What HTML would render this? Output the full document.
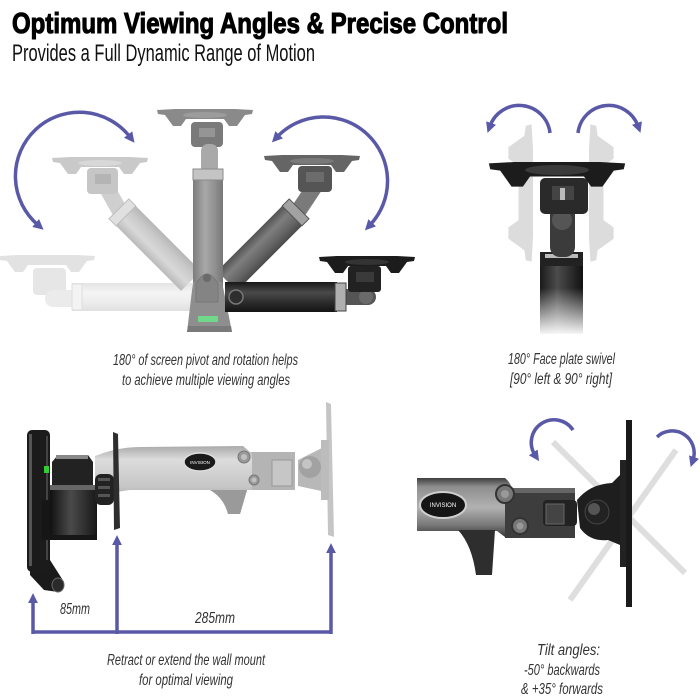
<!DOCTYPE html>
<html><head><meta charset="utf-8">
<style>
html,body{margin:0;padding:0;background:#fff;}
svg{display:block;}
.cap{font-family:"Liberation Sans",sans-serif;font-style:italic;font-size:16px;fill:#333;}
</style></head><body>
<svg width="700" height="700" viewBox="0 0 700 700" xmlns="http://www.w3.org/2000/svg">
<defs>
<marker id="ah" viewBox="0 0 10 10" refX="3" refY="5" markerWidth="3" markerHeight="3" orient="auto-start-reverse" markerUnits="strokeWidth">
<path d="M0,0 L10,5 L0,10 Z" fill="#5a59a7"/>
</marker>
<marker id="ah2" viewBox="0 0 10 10" refX="2" refY="5" markerWidth="2.8" markerHeight="2.8" orient="auto" markerUnits="strokeWidth">
<path d="M0,0 L10,5 L0,10 Z" fill="#5a59a7"/>
</marker>
<path id="plate" d="M-48,-8 L-30,-9 L30,-9 L48,-8 L47,-4 L40,-3 L32,8 L24,8 L19,1 L-19,1 L-24,8 L-32,8 L-40,-3 L-47,-4 Z"/>
<linearGradient id="g0" x1="0" y1="0" x2="0" y2="1"><stop offset="0" stop-color="#e4e4e4"/><stop offset=".35" stop-color="#f4f4f4"/><stop offset=".7" stop-color="#ececec"/><stop offset="1" stop-color="#e0e0e0"/></linearGradient>
<linearGradient id="g1" x1="0" y1="0" x2="0" y2="1"><stop offset="0" stop-color="#bababa"/><stop offset=".35" stop-color="#d8d8d8"/><stop offset=".7" stop-color="#cacaca"/><stop offset="1" stop-color="#b6b6b6"/></linearGradient>
<linearGradient id="g2" x1="0" y1="0" x2="1" y2="0"><stop offset="0" stop-color="#7c7c7c"/><stop offset=".4" stop-color="#a8a8a8"/><stop offset=".7" stop-color="#929292"/><stop offset="1" stop-color="#787878"/></linearGradient>
<linearGradient id="g3" x1="0" y1="0" x2="0" y2="1"><stop offset="0" stop-color="#525252"/><stop offset=".35" stop-color="#7e7e7e"/><stop offset=".7" stop-color="#666"/><stop offset="1" stop-color="#4a4a4a"/></linearGradient>
<linearGradient id="g4" x1="0" y1="0" x2="0" y2="1"><stop offset="0" stop-color="#181818"/><stop offset=".35" stop-color="#4a4a4a"/><stop offset=".7" stop-color="#2a2a2a"/><stop offset="1" stop-color="#141414"/></linearGradient>
<linearGradient id="gcol" x1="0" y1="0" x2="1" y2="0"><stop offset="0" stop-color="#1a1a1a"/><stop offset=".4" stop-color="#4c4c4c"/><stop offset=".75" stop-color="#2a2a2a"/><stop offset="1" stop-color="#111"/></linearGradient>
<linearGradient id="gfade" x1="0" y1="0" x2="0" y2="1"><stop offset="0" stop-color="#fff" stop-opacity="0"/><stop offset=".35" stop-color="#fff" stop-opacity="0"/><stop offset="1" stop-color="#fff" stop-opacity="1"/></linearGradient>
<linearGradient id="garm" x1="0" y1="0" x2="0" y2="1"><stop offset="0" stop-color="#aaa"/><stop offset=".2" stop-color="#dcdcdc"/><stop offset=".6" stop-color="#c6c6c6"/><stop offset="1" stop-color="#8e8e8e"/></linearGradient>
<linearGradient id="garm2" x1="0" y1="0" x2="0" y2="1"><stop offset="0" stop-color="#3e3e3e"/><stop offset=".15" stop-color="#8e8e8e"/><stop offset=".5" stop-color="#b2b2b2"/><stop offset=".8" stop-color="#777"/><stop offset="1" stop-color="#383838"/></linearGradient>
<linearGradient id="gcyl" x1="0" y1="0" x2="1" y2="0"><stop offset="0" stop-color="#111"/><stop offset=".45" stop-color="#4a4a4a"/><stop offset="1" stop-color="#1a1a1a"/></linearGradient>
</defs>

<!-- Title -->
<text x="12" y="33" font-family="Liberation Sans, sans-serif" font-weight="bold" font-size="28.5" textLength="496" lengthAdjust="spacingAndGlyphs" fill="#000" stroke="#000" stroke-width="1.1">Optimum Viewing Angles &amp; Precise Control</text>
<text x="12" y="61" font-family="Liberation Sans, sans-serif" font-size="24" textLength="303" lengthAdjust="spacingAndGlyphs" fill="#111">Provides a Full Dynamic Range of Motion</text>

<!-- ===== Top-left: pivot ===== -->
<use href="#plate" transform="translate(47,264)" fill="#e2e2e2"/>
<rect x="33" y="268" width="33" height="27" rx="4" fill="#e6e6e6"/>
<rect x="45" y="290" width="36" height="17" rx="8" fill="#ebebeb"/>
<rect x="72" y="283" width="120" height="28" fill="url(#g0)"/>
<rect x="72" y="284" width="10" height="26" fill="#f3f3f3" stroke="#dedede"/>

<line x1="122" y1="215" x2="104" y2="183" stroke="#cfcfcf" stroke-width="16" stroke-linecap="round"/>
<g transform="translate(191,281) rotate(-135)">
<rect x="0" y="-14" width="97" height="28" fill="url(#g1)"/>
<rect x="92" y="-14" width="10" height="28" fill="#e0e0e0" stroke="#bdbdbd"/>
</g>
<rect x="87" y="168" width="31" height="26" rx="4" fill="#c6c6c6"/>
<rect x="95" y="174" width="16" height="10" fill="#b4b4b4"/>
<use href="#plate" transform="translate(100,166)" fill="#c9c9c9"/>
<ellipse cx="100" cy="163" rx="22" ry="3" fill="#d8d8d8"/>

<line x1="297" y1="213" x2="317" y2="183" stroke="#7a7a7a" stroke-width="16" stroke-linecap="round"/>
<g transform="translate(227,281) rotate(-45)">
<rect x="0" y="-14" width="97" height="28" fill="url(#g3)"/>
<rect x="92" y="-14" width="10" height="28" fill="#a2a2a2" stroke="#555"/>
</g>
<rect x="298" y="166" width="34" height="26" rx="4" fill="#555"/>
<rect x="306" y="172" width="18" height="10" fill="#6c6c6c"/>
<use href="#plate" transform="translate(312,164)" fill="#656565"/>
<ellipse cx="312" cy="161" rx="22" ry="3" fill="#7a7a7a"/>

<use href="#plate" transform="translate(205,118)" fill="#8a8a8a"/>
<ellipse cx="205" cy="115" rx="22" ry="3" fill="#9c9c9c"/>
<rect x="191" y="122" width="32" height="25" rx="4" fill="#7a7a7a"/>
<rect x="199" y="128" width="16" height="9" fill="#959595"/>
<rect x="201" y="144" width="17" height="30" rx="7" fill="#a9a9a9"/>
<rect x="193" y="179" width="30" height="108" fill="url(#g2)"/>
<rect x="193" y="169" width="30" height="11" fill="#c4c4c4" stroke="#8a8a8a"/>
<path d="M193,282 L222,282 L232,332 L187,332 Z" fill="#8e8e8e"/>
<path d="M188,326 L231,326 L232,332 L187,332 Z" fill="#7a7a7a"/>
<path d="M196,302 L196,284 Q207,264 218,284 L218,302 Z" fill="#848484" stroke="#777"/>
<circle cx="207" cy="278" r="4" fill="#6a6a6a"/>
<rect x="198" y="316" width="20" height="6" rx="1" fill="#6fd88a"/>

<rect x="340" y="289" width="36" height="16" rx="8" fill="#555"/>
<circle cx="366" cy="297" r="7" fill="#6a6a6a"/>
<rect x="348" y="266" width="33" height="26" rx="3" fill="#222"/>
<rect x="356" y="272" width="18" height="10" fill="#3a3a3a"/>
<use href="#plate" transform="translate(367,265)" fill="#1c1c1c"/>
<ellipse cx="367" cy="262" rx="22" ry="3" fill="#333"/>
<rect x="225" y="282" width="112" height="30" fill="url(#g4)"/>
<rect x="335" y="283" width="11" height="28" fill="#b0b0b0" stroke="#444"/>
<circle cx="236" cy="297" r="7" fill="#2e2e2e" stroke="#777" stroke-width="1.5"/>

<path d="M130,137 A64,64 0 1 0 38,225" fill="none" stroke="#5a59a7" stroke-width="3.5" marker-start="url(#ah)" marker-end="url(#ah)"/>
<path d="M277,137 A64,64 0 1 1 370,225" fill="none" stroke="#5a59a7" stroke-width="3.5" marker-start="url(#ah)" marker-end="url(#ah)"/>

<text class="cap" x="113" y="365" textLength="185" lengthAdjust="spacingAndGlyphs">180° of screen pivot and rotation helps</text>
<text class="cap" x="122" y="385" textLength="168" lengthAdjust="spacingAndGlyphs">to achieve multiple viewing angles</text>

<!-- ===== Top-right: swivel ===== -->
<use href="#plate" transform="translate(520,193) rotate(90) scale(1.43,1.45)" fill="#dcdcdc"/>
<use href="#plate" transform="translate(602,193) rotate(-90) scale(1.43,1.45)" fill="#dcdcdc"/>
<rect x="540" y="262" width="43" height="72" fill="url(#gcol)"/>
<rect x="538" y="262" width="47" height="74" fill="url(#gfade)"/>
<rect x="540" y="252" width="43" height="14" fill="#222"/>
<rect x="545" y="254" width="33" height="4" fill="#bbb"/>
<rect x="550" y="205" width="25" height="52" rx="10" fill="#3b3b3b"/>
<circle cx="562" cy="220" r="10" fill="#555"/>
<rect x="540" y="178" width="48" height="36" rx="5" fill="#2a2a2a"/>
<rect x="552" y="186" width="22" height="14" fill="#444"/>
<rect x="560" y="188" width="5" height="12" fill="#bbb"/>
<use href="#plate" transform="translate(557,175) scale(1.42,1.45)" fill="#1c1c1c"/>
<ellipse cx="557" cy="170" rx="32" ry="5" fill="#3a3a3a"/>

<path d="M550,133 A31,31 0 0 0 490,126" fill="none" stroke="#5a59a7" stroke-width="3.5" marker-end="url(#ah)"/>
<path d="M578,133 A31,31 0 0 1 638,126" fill="none" stroke="#5a59a7" stroke-width="3.5" marker-end="url(#ah)"/>

<text class="cap" x="508" y="364" textLength="107" lengthAdjust="spacingAndGlyphs">180° Face plate swivel</text>
<text class="cap" x="510" y="384" textLength="102" lengthAdjust="spacingAndGlyphs">[90° left &amp; 90° right]</text>

<!-- ===== Bottom-left: retract/extend ===== -->
<path d="M95,456 Q118,447 140,447 L243,446 L250,452 L295,452 L295,490 L247,490 L240,514 L228,514 Q224,498 210,490 L130,490 Q110,492 95,500 Z" fill="url(#garm)"/>
<rect x="252" y="452" width="43" height="38" fill="#b4b4b4"/>
<rect x="272" y="460" width="20" height="26" fill="#c6c6c6" stroke="#999"/>
<path d="M228,514 Q224,498 210,490 L247,490 L240,514 Z" fill="#9a9a9a"/>
<ellipse cx="200" cy="462" rx="16" ry="9" fill="#1a1a1a" stroke="#ddd" stroke-width="1.5"/>
<text x="200" y="464" font-family="Liberation Sans, sans-serif" font-size="4.5" fill="#fff" text-anchor="middle">INVISION</text>
<circle cx="244" cy="457" r="6" fill="#999" stroke="#777"/>
<circle cx="244" cy="457" r="3" fill="#c0c0c0"/>
<circle cx="254" cy="480" r="5" fill="#999" stroke="#777"/>
<circle cx="254" cy="480" r="2.5" fill="#c0c0c0"/>
<path d="M298,460 L322,448 L326,492 L298,486 Z" fill="#b8b8b8"/>
<circle cx="310" cy="467" r="11" fill="#a2a2a2"/>
<circle cx="307" cy="464" r="5" fill="#c4c4c4"/>
<path d="M326,402 L331,404 L334,537 L328,535 Z" fill="#c5c5c5"/>
<rect x="321" y="440" width="8" height="60" fill="#bcbcbc"/>
<path d="M30,560 L50,560 L64,582 L58,592 L44,590 L30,575 Z" fill="#1a1a1a"/>
<ellipse cx="58" cy="585" rx="6" ry="7" fill="#2a2a2a" stroke="#666"/>
<rect x="27" y="430" width="23" height="142" rx="5" fill="#1b1b1b"/>
<rect x="29" y="434" width="3" height="132" fill="#555"/>
<rect x="46" y="436" width="2" height="124" fill="#444"/>
<rect x="44" y="466" width="5" height="7" fill="#3c3"/>
<path d="M52,462 L58,455 L88,455 L93,462 L93,490 L52,490 Z" fill="#222"/>
<rect x="56" y="455" width="32" height="4" fill="#888"/>
<rect x="42" y="500" width="55" height="40" fill="#161616"/>
<rect x="50" y="485" width="46" height="50" rx="3" fill="url(#gcyl)"/>
<rect x="50" y="485" width="46" height="5" fill="#666"/>
<rect x="95" y="474" width="19" height="31" rx="6" fill="#222"/>
<rect x="98" y="478" width="12" height="3" fill="#555"/>
<rect x="98" y="486" width="12" height="3" fill="#555"/>
<rect x="98" y="494" width="12" height="3" fill="#555"/>
<path d="M113,432 L118,434 L120,528 L114,530 Z" fill="#2e2e2e"/>
<path d="M33,632 L331,632" stroke="#5a59a7" stroke-width="3.5" fill="none"/>
<path d="M33,634 L33,601" stroke="#5a59a7" stroke-width="3.5" marker-end="url(#ah2)"/>
<path d="M117,634 L117,543" stroke="#5a59a7" stroke-width="3.5" marker-end="url(#ah2)"/>
<path d="M331,634 L331,551" stroke="#5a59a7" stroke-width="3.5" marker-end="url(#ah2)"/>
<text class="cap" x="60" y="614" font-size="14" textLength="30" lengthAdjust="spacingAndGlyphs">85mm</text>
<text class="cap" x="195" y="623" font-size="14" textLength="40" lengthAdjust="spacingAndGlyphs">285mm</text>
<text class="cap" x="107" y="665" textLength="158" lengthAdjust="spacingAndGlyphs">Retract or extend the wall mount</text>
<text class="cap" x="139" y="685" textLength="94" lengthAdjust="spacingAndGlyphs">for optimal viewing</text>

<!-- ===== Bottom-right: tilt ===== -->
<line x1="553" y1="442" x2="685" y2="573" stroke="#dedede" stroke-width="6"/>
<line x1="676" y1="450" x2="570" y2="600" stroke="#dedede" stroke-width="6"/>
<path d="M417,478 L505,478 Q510,482 512,488 L575,488 L575,537 L505,537 L497,531 L417,531 Z" fill="url(#garm2)"/>
<rect x="505" y="488" width="70" height="50" fill="#3d3d3d"/>
<rect x="505" y="488" width="70" height="5" fill="#666"/>
<path d="M458,530 Q472,545 476,575 L492,575 L495,530 Z" fill="#2e2e2e"/>
<ellipse cx="443" cy="505" rx="23" ry="13" fill="#151515" stroke="#cfcfcf" stroke-width="2"/>
<text x="443" y="507" font-family="Liberation Sans, sans-serif" font-size="6" fill="#fff" text-anchor="middle">INVISION</text>
<circle cx="505" cy="494" r="9" fill="#777" stroke="#333" stroke-width="2"/>
<circle cx="505" cy="494" r="4" fill="#999"/>
<circle cx="520" cy="526" r="8" fill="#777" stroke="#333" stroke-width="2"/>
<circle cx="520" cy="526" r="3.5" fill="#999"/>
<rect x="543" y="500" width="34" height="26" rx="4" fill="#222"/>
<rect x="546" y="504" width="18" height="20" fill="#444" stroke="#666"/>
<path d="M577,500 Q590,484 612,483 L620,475 L620,545 L608,540 Q590,542 580,528 Z" fill="#1e1e1e"/>
<circle cx="597" cy="512" r="12" fill="#222" stroke="#444"/>
<circle cx="594" cy="509" r="6" fill="#555"/>
<rect x="620" y="460" width="12" height="107" fill="#222"/>
<rect x="626" y="420" width="6" height="187" fill="#1a1a1a"/>

<path d="M573,430 A22,22 0 0 0 535,455" fill="none" stroke="#5a59a7" stroke-width="3.5" marker-end="url(#ah)"/>
<path d="M657,437 A22,22 0 0 1 693,460" fill="none" stroke="#5a59a7" stroke-width="3.5" marker-end="url(#ah)"/>

<text class="cap" x="537" y="655" textLength="63" lengthAdjust="spacingAndGlyphs">Tilt angles:</text>
<text class="cap" x="524" y="675" textLength="76" lengthAdjust="spacingAndGlyphs">-50° backwards</text>
<text class="cap" x="521" y="694" textLength="82" lengthAdjust="spacingAndGlyphs">&amp; +35° forwards</text>
</svg>
</body></html>
